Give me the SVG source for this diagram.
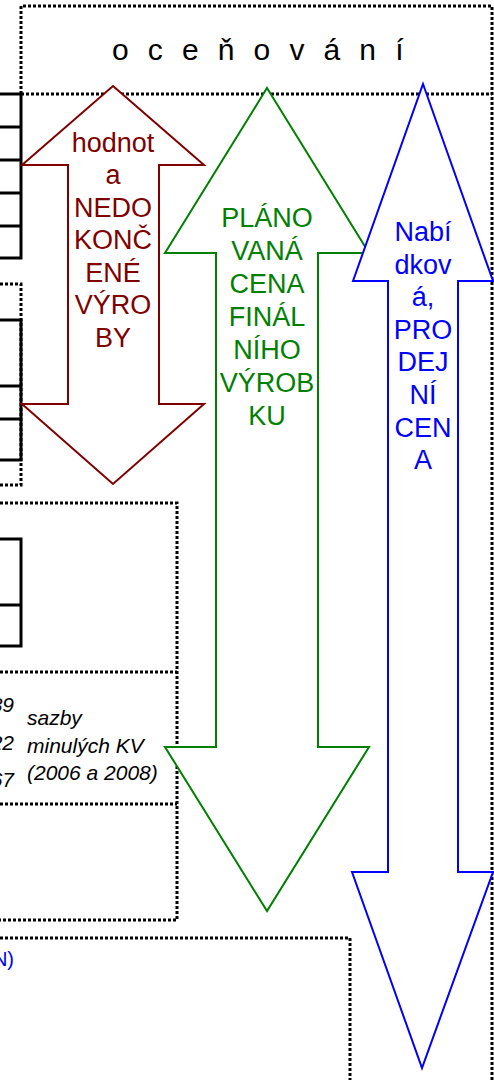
<svg xmlns="http://www.w3.org/2000/svg" width="494" height="1080" viewBox="0 0 494 1080">
<style>
.dot{fill:none;stroke:#000;stroke-width:3;stroke-dasharray:3 2}
.sol{fill:none;stroke:#000;stroke-width:3}
.arr{fill:#fff;stroke-width:2}
.at{font-family:"Liberation Sans",Arial,sans-serif;font-size:27px;text-anchor:middle}
.it{font-family:"Liberation Sans",Arial,sans-serif;font-size:21px;font-style:italic;fill:#000}
</style>
<rect width="494" height="1080" fill="#fff"/>
<g id="frame">
<path class="dot" d="M21,94 V6 H492 V1080"/>
<path class="dot" d="M21,94 H492"/>
<text x="112" y="60" font-family="Liberation Sans,Arial,sans-serif" font-size="30" letter-spacing="5.4" fill="#000">o c e ň o v á n í</text>
</g>
<g id="table1">
<path class="sol" d="M0,94 H21 V258 H0 M0,127 H21 M0,160 H21 M0,193 H21 M0,226 H21"/>
</g>
<g id="box2">
<path class="dot" d="M0,284 H21 V485 H0"/>
<path class="sol" d="M0,320 H21 V460 H0 M0,386 H21 M0,419 H21"/>
</g>
<g id="box3">
<path class="dot" d="M0,503 H177 V920 H0 M0,672 H177 M0,804 H177"/>
<path class="sol" d="M0,539 H21 V646 H0 M0,605 H21"/>
<text class="it" x="14" y="712" text-anchor="end">89</text>
<text class="it" x="14" y="750" text-anchor="end">22</text>
<text class="it" x="14" y="787" text-anchor="end">67</text>
<text class="it" x="27" y="725">sazby</text>
<text class="it" x="27" y="753">minulých KV</text>
<text class="it" x="27" y="780">(2006 a 2008)</text>
</g>
<g id="box6">
<path class="dot" d="M0,938 H350 V1080"/>
<text x="14" y="966" text-anchor="end" font-family="Liberation Sans,Arial,sans-serif" font-size="20" fill="#0000ff">N)</text>
</g>
<g id="arrow-green">
<polygon class="arr" stroke="#008000" points="267,88 369,253 318,253 318,747 369,747 267,911 165,747 216,747 216,253 165,253"/>
<text class="at" fill="#008000"><tspan x="267" y="227">PLÁNO</tspan><tspan x="267" y="260">VANÁ</tspan><tspan x="267" y="293">CENA</tspan><tspan x="267" y="326">FINÁL</tspan><tspan x="267" y="359">NÍHO</tspan><tspan x="267" y="392">VÝROB</tspan><tspan x="267" y="425">KU</tspan></text>
</g>
<g id="arrow-red">
<polygon class="arr" stroke="#800000" points="113,86 204,165 159,165 159,404 204,404 113,484 22,404 68,404 68,165 22,165"/>
<text class="at" fill="#800000"><tspan x="113" y="152">hodnot</tspan><tspan x="113" y="184">a</tspan><tspan x="113" y="217">NEDO</tspan><tspan x="113" y="249">KONČ</tspan><tspan x="113" y="282">ENÉ</tspan><tspan x="113" y="314">VÝRO</tspan><tspan x="113" y="347">BY</tspan></text>
</g>
<g id="arrow-blue">
<polygon class="arr" stroke="#0000ff" points="423,84 493,281 458,281 458,872 493,872 422,1068 352,872 388,872 388,281 353,281"/>
<text class="at" fill="#0000ff"><tspan x="423" y="241">Nabí</tspan><tspan x="423" y="274">dkov</tspan><tspan x="423" y="306">á,</tspan><tspan x="423" y="339">PRO</tspan><tspan x="423" y="371">DEJ</tspan><tspan x="423" y="404">NÍ</tspan><tspan x="423" y="437">CEN</tspan><tspan x="423" y="469">A</tspan></text>
</g>
</svg>
